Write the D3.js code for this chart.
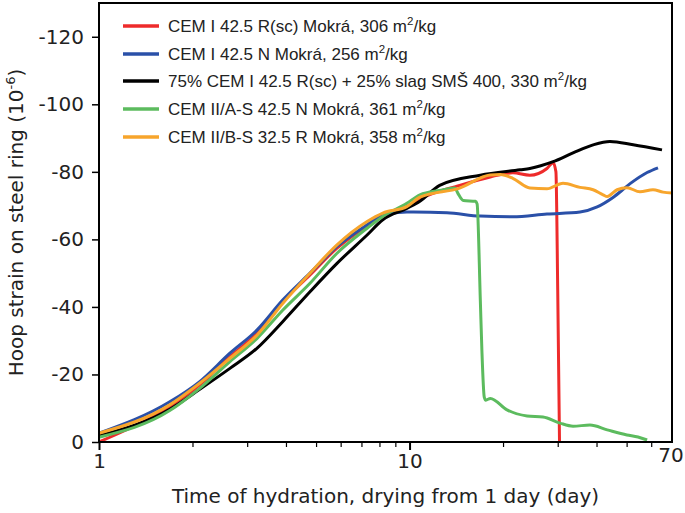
<!DOCTYPE html>
<html><head><meta charset="utf-8">
<script src="https://cdn.jsdelivr.net/npm/d3@7"></script>
<style>body{margin:0;background:#fff}svg{display:block}</style>
</head><body>
<svg id="c" width="685" height="513"></svg>
<script>
// ---- data ----
const seriesNames = [
  ["CEM I 42.5 R(sc) Mokrá, 306 m", "2", "/kg"],
  ["CEM I 42.5 N Mokrá, 256 m", "2", "/kg"],
  ["75% CEM I 42.5 R(sc) + 25% slag SMŠ 400, 330 m", "2", "/kg"],
  ["CEM II/A-S 42.5 N Mokrá, 361 m", "2", "/kg"],
  ["CEM II/B-S 32.5 R Mokrá, 358 m", "2", "/kg"]
];
const seriesColors = ["#ee2b2b", "#2a50a8", "#000000", "#5cbb5e", "#f7a52c"];

const redDays = [1.0,1.42,1.69,2.11,2.64,3.23,3.91,4.78,5.84,7.3,8.2,9.8,10.8,14.5,18.2,21.5,24.4,27.7,29.0,29.6,30.0,30.4];
const redVals = [0,-6.5,-10.5,-16.9,-25.3,-32.2,-41.6,-49.5,-57.4,-64,-66.8,-69.7,-72,-76,-78.5,-79.7,-79,-81,-82.7,-80,-45,0];

const blueDays = [1.0,1.69,2.11,2.64,3.23,3.91,4.78,5.84,7.3,8.2,9.8,10.3,13.2,16.9,21.5,27.7,35.4,40.2,45.2,51.3,58.2,63.1];
const blueVals = [-2.6,-11.9,-17.9,-26.3,-33.2,-42.1,-50,-57.9,-64.3,-67.3,-68.1,-68.1,-67.9,-66.9,-66.7,-67.5,-68.1,-69.6,-72.4,-76.5,-79.8,-81.2];

const blackDays = [1.0,1.69,2.11,2.64,3.23,3.91,4.78,5.84,7.3,8.2,9.8,10.8,12.5,16.9,22.7,24.4,29,33.6,39,44.2,52.5,65];
const blackVals = [-1.8,-9.7,-15.6,-21.8,-27.8,-35.7,-44.5,-52.9,-61.3,-65.8,-69.2,-71.3,-76,-79,-80.6,-81,-83,-85.6,-88,-89,-88,-86.5];

const greenDays = [1.0,1.69,2.11,2.64,3.23,3.91,4.78,5.84,7.3,8.2,9.8,10.8,12.5,14.0,14.3,14.9,16.3,16.5,16.9,17.1,17.4,17.6,18.2,20.6,23.9,26.9,30.5,33.6,38.1,43.3,50.1,54.4,58.2];
const greenVals = [-1.4,-9.3,-15.9,-23.8,-30.7,-39.1,-47,-55.9,-63.3,-66.8,-70.7,-73.2,-74.5,-75.2,-73.7,-71.5,-71.3,-70.5,-42,-27,-13.3,-12.4,-12.9,-9.5,-7.7,-7.4,-5.6,-4.7,-5,-3.6,-2.1,-1.5,-0.6];

const orangeDays = [1.0,1.69,2.11,2.64,3.23,3.91,4.78,5.84,7.3,8.2,9.8,10.8,14.5,18.2,19.6,21.5,24.4,27.7,31.2,35.4,39.0,42.0,43.3,46.6,50.1,55.2,60.8,65.5,70];
const orangeVals = [-2.6,-11,-17.4,-24.8,-31.7,-41.1,-50,-58.4,-65.3,-67.8,-69.7,-72.5,-75.2,-79.1,-79.2,-78.1,-75.2,-75,-76.6,-75.4,-74.7,-73.2,-72.7,-74.7,-75.3,-74.1,-74.7,-74,-73.7];

const yTicks = [0,-20,-40,-60,-80,-100,-120];
const xMajorTicks = [1,10];
const xMinorTicks = [2,3,4,5,6,7,8,9,20,30,40,50,60];
const xEndLabel = "70";
const xTitle = "Time of hydration, drying from 1 day (day)";
const yTitle = ["Hoop strain on steel ring (10", "-6", ")"];

// ---- layout ----
const L = 99, R = 672, T = 3, B = 442;
const svg = d3.select("#c");
const x = d3.scaleLog().domain([1,70]).range([L,R]);
const y = d3.scaleLinear().domain([0,-130]).range([B,T]);

const series = [
  {d: redDays, v: redVals},
  {d: blueDays, v: blueVals},
  {d: blackDays, v: blackVals},
  {d: greenDays, v: greenVals},
  {d: orangeDays, v: orangeVals}
];

const line = d3.line().x(p => x(p[0])).y(p => y(p[1])).curve(d3.curveMonotoneX);
const g = svg.append("g");
series.forEach((s, i) => {
  const pts = s.d.map((dd, j) => [dd, s.v[j]]);
  g.append("path").attr("d", line(pts)).attr("fill","none")
    .attr("stroke", seriesColors[i]).attr("stroke-width", 3)
    .attr("stroke-linejoin","round").attr("stroke-linecap","butt");
});

// frame
svg.append("rect").attr("x",L).attr("y",T).attr("width",R-L).attr("height",B-T)
  .attr("fill","none").attr("stroke","#000").attr("stroke-width",2);

const font = "'DejaVu Sans', sans-serif";
const fs = 20;
// y axis
const ya = svg.append("g").attr("transform",`translate(${L},0)`)
  .call(d3.axisLeft(y).tickValues(yTicks).tickSize(7).tickPadding(8).tickFormat(d => String(d)));
ya.select(".domain").remove();
ya.selectAll("line").attr("stroke","#000").attr("stroke-width",1.5);
ya.selectAll("text").attr("font-family",font).attr("font-size",fs).attr("fill","#222");

// x axis major
const xa = svg.append("g").attr("transform",`translate(0,${B})`)
  .call(d3.axisBottom(x).tickValues(xMajorTicks).tickSize(8).tickPadding(4).tickFormat(d => String(d)));
xa.select(".domain").remove();
xa.selectAll("line").attr("stroke","#000").attr("stroke-width",2);
xa.selectAll("text").attr("font-family",font).attr("font-size",fs).attr("fill","#222");
// x minor
const xm = svg.append("g").attr("transform",`translate(0,${B})`)
  .call(d3.axisBottom(x).tickValues(xMinorTicks).tickSize(5).tickFormat(""));
xm.select(".domain").remove();
xm.selectAll("line").attr("stroke","#000").attr("stroke-width",1.2);
// end label 70
svg.append("text").attr("x", x(70)-1).attr("y", B+6).attr("dy","0.71em")
  .attr("text-anchor","middle").attr("font-family",font).attr("font-size",fs).attr("fill","#222")
  .text(xEndLabel);

// titles
svg.append("text").attr("x",(L+R)/2).attr("y",503).attr("text-anchor","middle")
  .attr("font-family",font).attr("font-size",fs).attr("fill","#222").text(xTitle);
const yt = svg.append("text").attr("transform",`translate(23,${(T+B)/2}) rotate(-90)`)
  .attr("text-anchor","middle").attr("font-family",font).attr("font-size",fs).attr("fill","#222");
yt.append("tspan").text(yTitle[0]);
yt.append("tspan").attr("dy",-8).attr("font-size",13).text(yTitle[1]);
yt.append("tspan").attr("dy",8).text(yTitle[2]);

// legend
const lg = svg.append("g");
const rowY = [26, 54, 81, 109, 137];
seriesNames.forEach((nm, i) => {
  lg.append("line").attr("x1",123).attr("x2",159).attr("y1",rowY[i]).attr("y2",rowY[i])
    .attr("stroke",seriesColors[i]).attr("stroke-width",3.5);
  const t = lg.append("text").attr("x",168).attr("y",rowY[i]+6)
    .attr("font-family","'Liberation Sans', Arial, sans-serif").attr("font-size",17).attr("fill","#222");
  t.append("tspan").text(nm[0]);
  t.append("tspan").attr("dy",-7).attr("font-size",11.5).text(nm[1]);
  t.append("tspan").attr("dy",7).text(nm[2]);
});
</script>
</body></html>
